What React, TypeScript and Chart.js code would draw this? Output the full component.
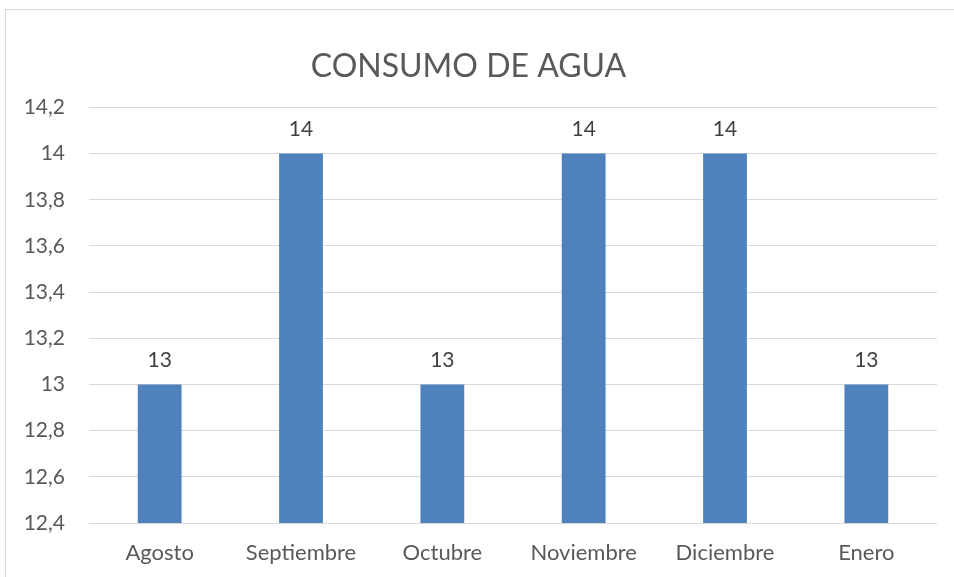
import React, { useEffect, useRef } from "react";
import { Chart, registerables } from "chart.js";

Chart.register(...registerables);

const categories = ["Agosto", "Septiembre", "Octubre", "Noviembre", "Diciembre", "Enero"];
const consumo = [13, 14, 13, 14, 14, 13];
const yMin = 12.4;
const yMax = 14.2;
const yStep = 0.2;
const title = "CONSUMO DE AGUA";

const FONT = "Lato, 'Open Sans', sans-serif";

const fmt = (v: number) => String(Number(Number(v).toFixed(1))).replace(".", ",");

const valueLabels = {
  id: "valueLabels",
  afterDatasetsDraw(chart: any) {
    const ctx = chart.ctx;
    const meta = chart.getDatasetMeta(0);
    ctx.save();
    ctx.font = `21px ${FONT}`;
    ctx.fillStyle = "#404040";
    ctx.textAlign = "center";
    ctx.textBaseline = "middle";
    meta.data.forEach((bar: any, i: number) => {
      ctx.fillText(fmt(chart.data.datasets[0].data[i]), bar.x, bar.y - 24);
    });
    ctx.restore();
  },
};

export default function App() {
  const ref = useRef<HTMLCanvasElement | null>(null);
  useEffect(() => {
    if (!ref.current) return;
    const chart = new Chart(ref.current, {
      type: "bar",
      data: {
        labels: categories,
        datasets: [
          {
            data: consumo,
            backgroundColor: "#4F81BD",
            categoryPercentage: 1,
            barPercentage: 0.31,
          },
        ],
      },
      options: {
        animation: false,
        responsive: false,
        maintainAspectRatio: false,
        layout: { padding: { top: 47, right: 17, bottom: 11, left: 0 } },
        plugins: {
          legend: { display: false },
          tooltip: { enabled: false },
          title: {
            display: true,
            text: title,
            color: "#595959",
            font: { family: FONT, size: 32, weight: "normal" },
            padding: { top: 0, bottom: 22 },
          },
        },
        scales: {
          x: {
            grid: { display: false, drawTicks: false },
            border: { display: false },
            ticks: { color: "#595959", font: { family: FONT, size: 22 }, padding: 17 },
            afterFit: (scale: any) => {
              scale.height = 43;
            },
          },
          y: {
            min: yMin,
            max: yMax,
            grid: { color: "#D9D9D9", lineWidth: 1, drawTicks: false },
            border: { display: false },
            ticks: {
              stepSize: yStep,
              color: "#595959",
              font: { family: FONT, size: 21 },
              padding: 24,
              callback: (v: any) => fmt(v),
            },
            afterFit: (scale: any) => {
              scale.width = 89;
            },
          },
        },
      },
      plugins: [valueLabels],
    });
    return () => chart.destroy();
  }, []);
  return (
    <div style={{ position: "fixed", left: 0, top: 0, width: 954, height: 577, background: "#fff", overflow: "hidden" }}>
      <div
        style={{
          position: "absolute",
          left: 5,
          top: 9,
          width: 1000,
          height: 1000,
          border: "1px solid #D9D9D9",
          boxSizing: "border-box",
        }}
      />
      <canvas ref={ref} width={954} height={577} style={{ position: "absolute", left: 0, top: 0 }} />
    </div>
  );
}
